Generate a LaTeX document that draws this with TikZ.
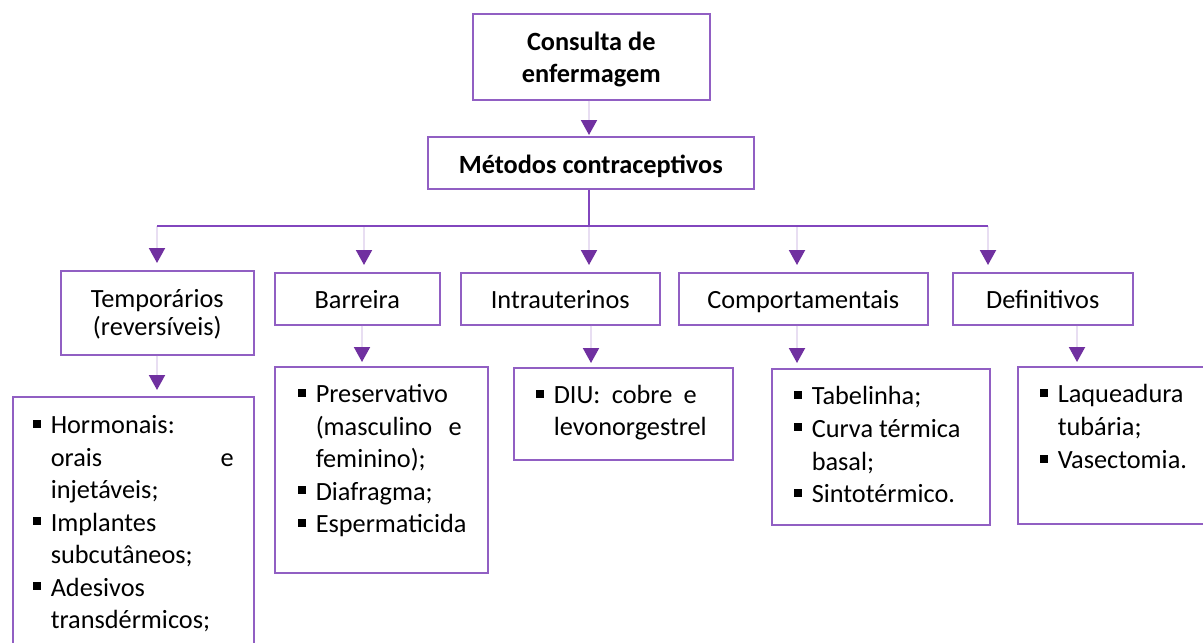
\documentclass[tikz,border=0pt]{standalone}
\usepackage{fontspec}
\setmainfont{Carlito}
\usetikzlibrary{arrows.meta}
\definecolor{boxc}{RGB}{145,95,195}
\definecolor{busc}{RGB}{130,70,190}
\definecolor{arrc}{RGB}{112,48,160}
\definecolor{linec}{RGB}{232,222,242}
\newcommand\bu{\leavevmode\llap{\raisebox{6pt}{\rule{8pt}{8pt}}\hspace{10pt}}}
% #1 height, #2 width, #3 first baseline, #4 baselineskip, #5 left indent, #6 content
\newcommand\lbox[6]{\begin{minipage}[t][#1][t]{#2}\fontsize{26.3pt}{#4}\selectfont\raggedright\setlength\parindent{0pt}\setlength\leftskip{#5}\leavevmode\rule{0pt}{#3}#6\par\end{minipage}}
\newcommand\cbox[5]{\begin{minipage}[t][#1][t]{#2}\fontsize{26.3pt}{#4}\selectfont\centering\leavevmode\rule{0pt}{#3}#5\par\end{minipage}}
\tikzset{
  box/.style={draw=boxc, line width=1.5pt, inner sep=0pt, anchor=north west, fill=white},
  conn/.style={draw=linec, line width=2pt, -{Triangle[width=16pt,length=15pt,color=arrc]}},
  bus/.style={draw=busc, line width=2pt},
}
\begin{document}
\begin{tikzpicture}[x=1pt,y=-1pt]
\useasboundingbox[fill=white] (0,0) rectangle (1203,643);
% top levels
\node[box] (top) at (472,13) {\cbox{86pt}{237pt}{37pt}{32pt}{\bfseries Consulta de\\ enfermagem}};
\node[box] (met) at (427,136) {\cbox{52pt}{326pt}{37pt}{32pt}{\bfseries Métodos contraceptivos}};
% second level
\node[box] (tem) at (60,270) {\cbox{84pt}{193pt}{37pt}{28pt}{Temporários\\ (reversíveis)}};
\node[box] (bar) at (274,272) {\cbox{52pt}{165pt}{36pt}{32pt}{Barreira}};
\node[box] (int) at (460,272) {\cbox{52pt}{199pt}{36pt}{32pt}{Intrauterinos}};
\node[box] (com) at (678,272) {\cbox{52pt}{249pt}{36pt}{32pt}{Comportamentais}};
\node[box] (def) at (952,272) {\cbox{52pt}{180pt}{36pt}{32pt}{Definitivos}};
% third level
\node[box] (tl) at (12,396) {\lbox{280pt}{241pt}{37pt}{32.5pt}{38pt}{%
  \bu Hormonais:\par
  \makebox[183pt][s]{orais e}\par
  injetáveis;\par
  \bu Implantes\par
  subcutâneos;\par
  \bu Adesivos\par
  transdérmicos;}};
\node[box] (bl) at (274,366) {\lbox{206pt}{213pt}{36pt}{32.5pt}{41pt}{%
  \bu Preservativo\par
  \makebox[146pt][s]{(masculino e}\par
  feminino);\par
  \bu Diafragma;\par
  \bu Espermaticida}};
\node[box] (il) at (513,367) {\lbox{92pt}{219pt}{36pt}{32pt}{40pt}{%
  \bu\makebox[143pt][s]{DIU: cobre e}\par
  levonorgestrel}};
\node[box] (cl) at (771,368) {\lbox{156pt}{218pt}{36pt}{32.7pt}{40pt}{%
  \bu Tabelinha;\par
  \bu Curva térmica\par
  basal;\par
  \bu Sintotérmico.}};
\node[box] (dl) at (1017,366) {\lbox{157pt}{200pt}{36pt}{33pt}{40pt}{%
  \bu Laqueadura\par
  tubária;\par
  \bu Vasectomia.}};
% coordinates
\coordinate (a0) at (589,226);
\coordinate (b1) at (157,226);
\coordinate (b2) at (364,226);
\coordinate (b3) at (589,226);
\coordinate (b4) at (797,226);
\coordinate (b5) at (988,226);
\coordinate (c1) at (157,0);
\coordinate (c2) at (362,0);
\coordinate (c3) at (591,0);
\coordinate (c4) at (797,0);
\coordinate (c5) at (1077,0);
% connectors
\draw[conn, shorten >=1pt] (top.south -| a0) -- (met.north -| a0);
\foreach \i/\n in {1/tem,2/bar,3/int,4/com,5/def}{
  \draw[conn, shorten >=7pt] (b\i) -- (b\i |- \n.north);
}
\draw[conn, shorten >=6pt] (tem.south -| c1) -- (tl.north -| c1);
\draw[conn, shorten >=4pt] (bar.south -| c2) -- (bl.north -| c2);
\draw[conn, shorten >=4pt] (int.south -| c3) -- (il.north -| c3);
\draw[conn, shorten >=5pt] (com.south -| c4) -- (cl.north -| c4);
\draw[conn, shorten >=4pt] (def.south -| c5) -- (dl.north -| c5);
\draw[bus] (met.south -| a0) -- (a0);
\draw[bus] (b1) -- (b5);
\end{tikzpicture}
\end{document}
